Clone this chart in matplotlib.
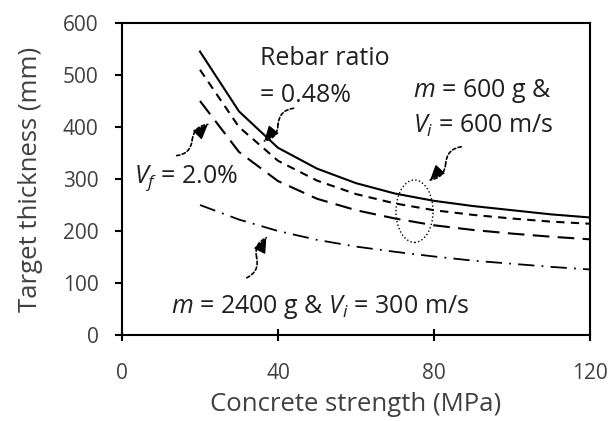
import matplotlib.pyplot as plt
from matplotlib.patches import Ellipse

# === Data
strength = [20, 30, 40, 50, 60, 70, 80, 90, 100, 110, 120]
rebar = [545, 430, 360, 320, 292, 272, 258, 248, 240, 232, 226]
base = [510, 400, 335, 297, 271, 253, 240, 231, 224, 218, 214]
fiber = [450, 352, 296, 262, 240, 224, 211, 202, 195, 189, 184]
heavy = [250, 222, 200, 183, 170, 160, 151, 143, 137, 131, 126]

grey = "#404040"
plt.rcParams['font.family'] = ['Open Sans', 'DejaVu Sans']
plt.rcParams['mathtext.fontset'] = 'custom'
plt.rcParams['mathtext.it'] = 'Open Sans:italic'
plt.rcParams['mathtext.rm'] = 'Open Sans'

fig = plt.figure(figsize=(6.14, 4.21), dpi=100)
ax = fig.add_axes([122 / 614, 1 - 335 / 421, 468 / 614, 312 / 421])

ax.plot(strength, rebar, color="black", lw=1.5, ls="-")
ax.plot(strength, base, color="black", lw=1.5, ls=(0, (4, 3)))
ax.plot(strength, fiber, color="black", lw=1.5, ls=(0, (8, 4)))
ax.plot(strength, heavy, color="black", lw=1.3, ls=(0, (9, 4, 1, 4)))

ax.set_xlim(0, 120)
ax.set_ylim(0, 600)
ax.set_xticks([0, 40, 80, 120])
ax.set_yticks(range(0, 601, 100))
ax.tick_params(axis="x", direction="inout", length=8, width=1.5, labelsize=15,
               labelcolor=grey, pad=16)
ax.tick_params(axis="y", direction="out", length=5, width=1.5, labelsize=15,
               labelcolor=grey, pad=12)
for s in ax.spines.values():
    s.set_linewidth(1.5)

ax.set_xlabel("Concrete strength (MPa)", fontsize=18.5, color=grey, labelpad=6)
ax.set_ylabel("Target thickness (mm)", fontsize=18.5, color=grey, labelpad=14)

fs = 18
tc = "#202020"
ax.text(35.5, 519, "Rebar ratio", fontsize=fs, color=tc, va="baseline")
ax.text(35.5, 448, "= 0.48%", fontsize=fs, color=tc, va="baseline")
ax.text(74.5, 458, r"$m$ = 600 g &", fontsize=fs, color=tc, va="baseline")
ax.text(74.5, 388, r"$V_i$ = 600 m/s", fontsize=fs, color=tc, va="baseline")
ax.text(3.0, 292, r"$V_f$ = 2.0%", fontsize=fs, color=tc, va="baseline")
ax.text(12.5, 42, r"$m$ = 2400 g & $V_i$ = 300 m/s", fontsize=fs, color=tc, va="baseline")

ax.add_patch(Ellipse((75, 238), 9.5, 120, fill=False, ls=":", lw=1, ec="black"))

# S-shaped dashed pointers: start, bend, head
arrows = [((44, 436), (40, 405), (36.5, 373)),
          ((14, 345), (18, 375), (22, 405)),
          ((87, 362), (83, 330), (79, 298)),
          ((32, 110), (34.5, 150), (37, 187))]
for start, mid, end in arrows:
    ax.annotate("", xy=mid, xytext=start,
                arrowprops=dict(arrowstyle="-", ls=(0, (2, 1.5)), lw=1.2, color="black",
                                shrinkA=0, shrinkB=0,
                                connectionstyle="arc3,rad=0.4"))
    ax.annotate("", xy=end, xytext=mid,
                arrowprops=dict(arrowstyle="-", ls=(0, (2, 1.5)), lw=1.2, color="black",
                                shrinkA=0, shrinkB=0,
                                connectionstyle="arc3,rad=-0.4"))
    tail = (end[0] - 0.3 * (end[0] - mid[0]), end[1] - 0.3 * (end[1] - mid[1]))
    ax.annotate("", xy=end, xytext=tail,
                arrowprops=dict(arrowstyle="-|>,head_length=0.7,head_width=0.3",
                                lw=1.0, color="black", mutation_scale=13,
                                shrinkA=0, shrinkB=0))

fig.savefig("out.png", dpi=100)
